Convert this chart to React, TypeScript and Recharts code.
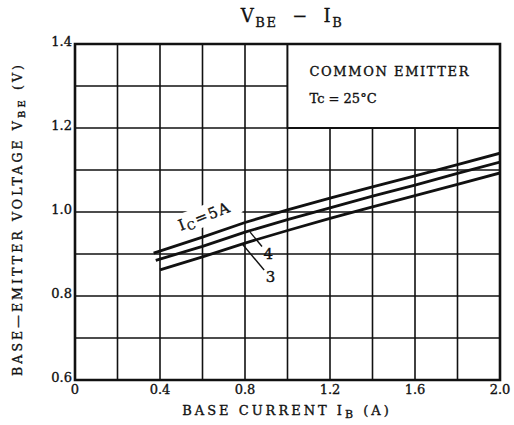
import React from "react";
import {
  LineChart,
  Line,
  XAxis,
  YAxis,
  CartesianGrid,
  ReferenceArea,
  ReferenceLine,
  ReferenceDot,
} from "recharts";

// ---- data ----
const ibTicks = [0, 0.4, 0.8, 1.2, 1.6, 2.0];
const vbeTicks = [0.6, 0.8, 1.0, 1.2, 1.4];
const ibGrid = [0, 0.2, 0.4, 0.6, 0.8, 1.0, 1.2, 1.4, 1.6, 1.8, 2.0];
const vbeGrid = [0.6, 0.7, 0.8, 0.9, 1.0, 1.1, 1.2, 1.3, 1.4];

const ib5A = [0.37, 0.6, 0.8, 1.0, 1.2, 1.4, 1.6, 1.8, 2.0];
const vbe5A = [0.902, 0.94, 0.975, 1.005, 1.033, 1.06, 1.086, 1.113, 1.14];
const ib4A = [0.38, 0.6, 0.8, 1.0, 1.2, 1.4, 1.6, 1.8, 2.0];
const vbe4A = [0.885, 0.918, 0.952, 0.982, 1.01, 1.038, 1.064, 1.092, 1.119];
const ib3A = [0.4, 0.6, 0.8, 1.0, 1.2, 1.4, 1.6, 1.8, 2.0];
const vbe3A = [0.862, 0.893, 0.926, 0.956, 0.985, 1.012, 1.039, 1.066, 1.093];

const toPts = (xs: number[], ys: number[]) => xs.map((x, i) => ({ ib: x, vbe: ys[i] }));
const s5 = toPts(ib5A, vbe5A);
const s4 = toPts(ib4A, vbe4A);
const s3 = toPts(ib3A, vbe3A);

const FONT = "'DejaVu Serif', 'Liberation Serif', serif";
const INK = "#111";
const THICK = { stroke: INK, strokeWidth: 0.35 };

const fmtX = (v: number) => (v === 0 ? "0" : v.toFixed(1));
const fmtY = (v: number) => v.toFixed(1);

const YTitle = (props: any) => {
  const cx = 17;
  const cy = 219;
  return (
    <text
      x={cx}
      y={cy}
      transform={`rotate(-90 ${cx} ${cy})`}
      textAnchor="middle"
      dominantBaseline="central"
      fontFamily={FONT}
      fontSize={12.5}
      letterSpacing={3.1}
      fill={INK}
      {...THICK}
    >
      BASE—EMITTER VOLTAGE{"  "}V
      <tspan fontSize={10} dy={4}>BE</tspan>
      <tspan dy={-4}> (V)</tspan>
    </text>
  );
};

const XTitle = (props: any) => {
  const vb = props.viewBox || {};
  const cx = 287;
  const cy = vb.y + 30;
  return (
    <text
      x={cx}
      y={cy}
      textAnchor="middle"
      dominantBaseline="central"
      fontFamily={FONT}
      fontSize={13}
      letterSpacing={3.0}
      fill={INK}
      {...THICK}
    >
      BASE CURRENT{"  "}I
      <tspan fontSize={11} dy={4}>B</tspan>
      <tspan dy={-4}> (A)</tspan>
    </text>
  );
};

const BoxText = (props: any) => {
  const vb = props.viewBox || {};
  const x0 = vb.x + 22;
  return (
    <g fontFamily={FONT} fill={INK} {...THICK}>
      <text x={x0} y={vb.y + 27} fontSize={13} letterSpacing={1.6} dominantBaseline="central">
        COMMON EMITTER
      </text>
      <text x={x0} y={vb.y + 54} fontSize={13} dominantBaseline="central">
        Tc = 25°C
      </text>
    </g>
  );
};

const IcLabel = (props: any) => {
  const vb = props.viewBox || {};
  const cx = vb.x;
  const cy = vb.y;
  return (
    <g transform={`rotate(-21 ${cx} ${cy})`}>
      <rect x={cx - 37} y={cy - 11} width={74} height={21} fill="#fff" />
      <text
        x={cx}
        y={cy}
        textAnchor="middle"
        dominantBaseline="central"
        fontFamily={FONT}
        fontSize={15}
        letterSpacing={1.5}
        fill={INK}
        {...THICK}
      >
        I<tspan fontSize={11} dy={4}>C</tspan>
        <tspan dy={-4}>=5A</tspan>
      </text>
    </g>
  );
};

const NumLabel = (txt: string) => (props: any) => {
  const vb = props.viewBox || {};
  return (
    <text
      x={vb.x}
      y={vb.y}
      textAnchor="middle"
      dominantBaseline="central"
      fontFamily={FONT}
      fontSize={15}
      fill={INK}
      {...THICK}
    >
      {txt}
    </text>
  );
};

export default function App() {
  return (
    <div style={{ position: "relative", width: 514, height: 425, background: "#fff" }}>
      <style>{"body{margin:0;background:#fff}"}</style>
      <div
        style={{
          position: "absolute",
          left: 0,
          width: 584,
          top: 6,
          textAlign: "center",
          fontFamily: FONT,
          fontSize: 18,
          color: INK,
          letterSpacing: 1.6,
          whiteSpace: "pre",
          lineHeight: "20px",
          WebkitTextStroke: "0.3px #111",
        }}
      >
        V<sub style={{ fontSize: 13 }}>BE</sub>  −  I<sub style={{ fontSize: 13 }}>B</sub>
      </div>
      <LineChart
        width={514}
        height={425}
        margin={{ top: 44, right: 14, bottom: 0, left: 0 }}
        style={{ position: "absolute", left: 0, top: 0 }}
      >
        <CartesianGrid
          stroke={INK}
          strokeWidth={1.6}
          horizontalValues={vbeGrid}
          verticalValues={ibGrid}
          fill="#fff"
        />
        <XAxis
          type="number"
          dataKey="ib"
          domain={[0, 2]}
          ticks={ibTicks}
          tickFormatter={fmtX}
          axisLine={false}
          tickLine={false}
          tickSize={0}
          tickMargin={5}
          height={45}
          allowDataOverflow
          tick={{ fontFamily: FONT, fontSize: 13, fill: INK, ...THICK }}
          label={<XTitle />}
        />
        <YAxis
          type="number"
          dataKey="vbe"
          domain={[0.6, 1.4]}
          ticks={vbeTicks}
          tickFormatter={fmtY}
          axisLine={false}
          tickLine={false}
          tickSize={0}
          tickMargin={3}
          width={75}
          allowDataOverflow
          tick={{ fontFamily: FONT, fontSize: 13, fill: INK, dy: -3, ...THICK }}
          label={<YTitle />}
        />
        <ReferenceArea
          x1={1.0}
          x2={2.0}
          y1={1.2}
          y2={1.4}
          fill="#fff"
          fillOpacity={1}
          stroke={INK}
          strokeWidth={1.8}
          label={<BoxText />}
        />
        <ReferenceArea
          x1={0}
          x2={2.0}
          y1={0.6}
          y2={1.4}
          fill="none"
          stroke={INK}
          strokeWidth={2.6}
        />
        <ReferenceDot x={0.61} y={0.99} r={0} fill="none" stroke="none" label={<IcLabel />} />
        <Line data={s5} dataKey="vbe" type="linear" stroke={INK} strokeWidth={2.8} dot={false} isAnimationActive={false} />
        <Line data={s4} dataKey="vbe" type="linear" stroke={INK} strokeWidth={2.8} dot={false} isAnimationActive={false} />
        <Line data={s3} dataKey="vbe" type="linear" stroke={INK} strokeWidth={2.8} dot={false} isAnimationActive={false} />
        <ReferenceLine
          segment={[
            { x: 0.824, y: 0.952 },
            { x: 0.88, y: 0.918 },
          ]}
          stroke={INK}
          strokeWidth={1.4}
        />
        <ReferenceLine
          segment={[
            { x: 0.79, y: 0.922 },
            { x: 0.89, y: 0.862 },
          ]}
          stroke={INK}
          strokeWidth={1.4}
        />
        <ReferenceDot x={0.91} y={0.9} r={0} fill="none" stroke="none" label={NumLabel("4")} />
        <ReferenceDot x={0.92} y={0.845} r={0} fill="none" stroke="none" label={NumLabel("3")} />
      </LineChart>
    </div>
  );
}
